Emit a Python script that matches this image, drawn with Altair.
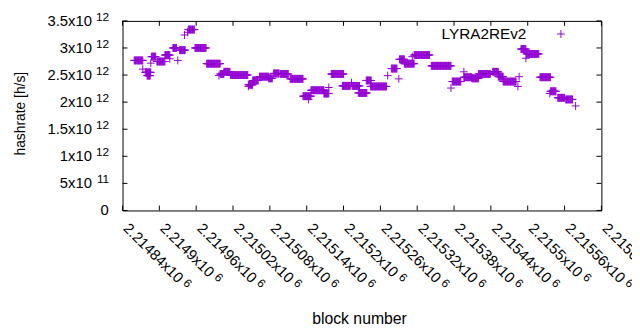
import altair as alt
import pandas as pd

# ---- data (hashrate runs: first block, last block, value in 1e12 h/s) ----
seg_start = [2214859, 2214873, 2214877, 2214880, 2214886, 2214887, 2214896, 2214909, 2214917, 2214922,
             2214930, 2214933, 2214941, 2214946, 2214947, 2214958, 2214977, 2214997, 2214999, 2215005,
             2215016, 2215045, 2215045, 2215052, 2215063, 2215078, 2215086, 2215097, 2215113, 2215134,
             2215143, 2215147, 2215168, 2215176, 2215180, 2215198, 2215213, 2215214, 2215224, 2215237,
             2215244, 2215272, 2215278, 2215290, 2215291, 2215299, 2215312, 2215315, 2215343, 2215375,
             2215377, 2215396, 2215396, 2215409, 2215420, 2215443, 2215452, 2215460, 2215484, 2215486,
             2215489, 2215497, 2215498, 2215520, 2215536, 2215537, 2215549, 2215562, 2215578]
seg_end = [2214873, 2214873, 2214886, 2214885, 2214886, 2214894, 2214909, 2214917, 2214917, 2214928,
           2214930, 2214942, 2214941, 2214946, 2214957, 2214976, 2214999, 2214997, 2215005, 2215015,
           2215044, 2215045, 2215052, 2215061, 2215078, 2215084, 2215095, 2215110, 2215134, 2215147,
           2215143, 2215168, 2215176, 2215176, 2215200, 2215211, 2215213, 2215226, 2215238, 2215245,
           2215270, 2215272, 2215287, 2215290, 2215299, 2215315, 2215312, 2215340, 2215375, 2215375,
           2215391, 2215396, 2215409, 2215420, 2215439, 2215452, 2215460, 2215481, 2215484, 2215486,
           2215497, 2215497, 2215518, 2215537, 2215536, 2215546, 2215560, 2215573, 2215578]
seg_value = [2.77, 2.61, 2.55, 2.49, 2.72, 2.84, 2.75, 2.87, 2.80, 3.00,
             2.77, 2.96, 3.24, 3.29, 3.34, 3.00, 2.71, 2.49, 2.52, 2.56,
             2.50, 2.29, 2.32, 2.40, 2.47, 2.44, 2.53, 2.52, 2.43, 2.11,
             2.05, 2.22, 2.16, 2.27, 2.52, 2.30, 2.36, 2.30, 2.17, 2.40,
             2.29, 2.49, 2.62, 2.43, 2.79, 2.71, 2.84, 2.87, 2.67, 2.26,
             2.38, 2.56, 2.46, 2.44, 2.52, 2.56, 2.47, 2.38, 2.29, 2.47,
             2.98, 2.81, 2.89, 2.46, 2.16, 2.20, 2.08, 2.05, 1.93]

ytick_values = [0, 0.5e12, 1.0e12, 1.5e12, 2.0e12, 2.5e12, 3.0e12, 3.5e12]
ytick_mant = ["0", "5x10", "1x10", "1.5x10", "2x10", "2.5x10", "3x10", "3.5x10"]
ytick_exp = ["", "11", "12", "12", "12", "12", "12", "12"]

xtick_values = [2214840, 2214900, 2214960, 2215020, 2215080, 2215140, 2215200,
                2215260, 2215320, 2215380, 2215440, 2215500, 2215560, 2215620]
xtick_mant = ["2.21484x10", "2.2149x10", "2.21496x10", "2.21502x10", "2.21508x10",
              "2.21514x10", "2.2152x10", "2.21526x10", "2.21532x10", "2.21538x10",
              "2.21544x10", "2.2155x10", "2.21556x10", "2.21562x10"]
xtick_exp = ["6"] * len(xtick_values)

series_name = "LYRA2REv2"
x_title = "block number"
y_title = "hashrate [h/s]"

# ---- tables ----
blocks, rates = [], []
for s, e, v in zip(seg_start, seg_end, seg_value):
    for b in range(s, e + 1):
        blocks.append(b)
        rates.append(v * 1e12)
pts = pd.DataFrame({"block": blocks, "rate": rates})
yt = pd.DataFrame({"rate": ytick_values, "mant": ytick_mant, "exp": ytick_exp})
xt = pd.DataFrame({"block": xtick_values, "mant": xtick_mant, "exp": xtick_exp})

W, H = 485, 192
FONT = "Liberation Sans"
PURPLE = "#9400d3"
PLUS = "M-1,0L1,0M0,-1L0,1"

xs = alt.Scale(domain=[2214840, 2215620], nice=False, zero=False)
ys = alt.Scale(domain=[0, 3.5e12], nice=False)
X = alt.X("block:Q", scale=xs, axis=None)
Y = alt.Y("rate:Q", scale=ys, axis=None)

points = alt.Chart(pts).mark_point(shape=PLUS, size=64, filled=False, strokeWidth=1,
                                   opacity=1, color=PURPLE).encode(x=X, y=Y)

ytl = alt.Chart(yt).mark_rule(color="black", strokeWidth=1).encode(
    y=Y, x=alt.value(0), x2=alt.value(5))
ytr = alt.Chart(yt).mark_rule(color="black", strokeWidth=1).encode(
    y=Y, x=alt.value(W - 5), x2=alt.value(W))
xtb = alt.Chart(xt).mark_rule(color="black", strokeWidth=1).encode(
    x=X, y=alt.value(H), y2=alt.value(H - 5))
xtt = alt.Chart(xt).mark_rule(color="black", strokeWidth=1).encode(
    x=X, y=alt.value(0), y2=alt.value(5))

ylab_m = alt.Chart(yt).transform_filter("datum.exp != ''").mark_text(
    font=FONT, fontSize=15, align="right", baseline="alphabetic", dy=5, color="black"
).encode(y=Y, x=alt.value(-31), text="mant:N")
ylab_0 = alt.Chart(yt).transform_filter("datum.exp == ''").mark_text(
    font=FONT, fontSize=15, align="right", baseline="alphabetic", dy=5, color="black"
).encode(y=Y, x=alt.value(-14), text="mant:N")
ylab_e = alt.Chart(yt).transform_filter("datum.exp != ''").mark_text(
    font=FONT, fontSize=12, align="right", baseline="alphabetic", dy=0, color="black"
).encode(y=Y, x=alt.value(-13.5), text="exp:N")

xlab_m = alt.Chart(xt).mark_text(
    font=FONT, fontSize=15, align="left", baseline="alphabetic", angle=45, color="black"
).encode(x=X, y=alt.value(H + 19), text="mant:N")
xlab_e10 = alt.Chart(xt).transform_filter("length(datum.mant) == 10").mark_text(
    font=FONT, fontSize=12, align="left", baseline="alphabetic", angle=45, dx=82, dy=-4,
    color="black"
).encode(x=X, y=alt.value(H + 19), text="exp:N")
xlab_e9 = alt.Chart(xt).transform_filter("length(datum.mant) == 9").mark_text(
    font=FONT, fontSize=12, align="left", baseline="alphabetic", angle=45, dx=74, dy=-4,
    color="black"
).encode(x=X, y=alt.value(H + 19), text="exp:N")

lab = pd.DataFrame({"t": [x_title, y_title, series_name]})
xtitle = alt.Chart(lab).transform_filter(alt.datum.t == x_title).mark_text(
    font=FONT, fontSize=16, align="center", baseline="alphabetic", color="black"
).encode(x=alt.value(240), y=alt.value(306.5), text="t:N")
ytitle = alt.Chart(lab).transform_filter(alt.datum.t == y_title).mark_text(
    font=FONT, fontSize=14, align="center", baseline="alphabetic", angle=270, color="black"
).encode(x=alt.value(-99), y=alt.value(94), text="t:N")
legtext = alt.Chart(lab).transform_filter(alt.datum.t == series_name).mark_text(
    font=FONT, fontSize=15.5, align="right", baseline="alphabetic", color="black"
).encode(x=alt.value(409), y=alt.value(18.3), text="t:N")
legsym = alt.Chart(lab).transform_filter(alt.datum.t == series_name).mark_point(
    shape=PLUS, size=64, filled=False, strokeWidth=1, opacity=1, color=PURPLE
).encode(x=alt.value(444), y=alt.value(13.3))

chart = alt.layer(
    points, ytl, ytr, xtb, xtt, ylab_m, ylab_0, ylab_e, xlab_m, xlab_e10, xlab_e9,
    xtitle, ytitle, legtext, legsym
).properties(
    width=W, height=H,
    autosize=alt.AutoSizeParams(type="none"),
    padding={"left": 116, "top": 11, "right": 31, "bottom": 119},
    background="white",
).configure_view(stroke="black", strokeWidth=1)

chart.save("out.html", embed_options={"renderer": "svg", "actions": False})
